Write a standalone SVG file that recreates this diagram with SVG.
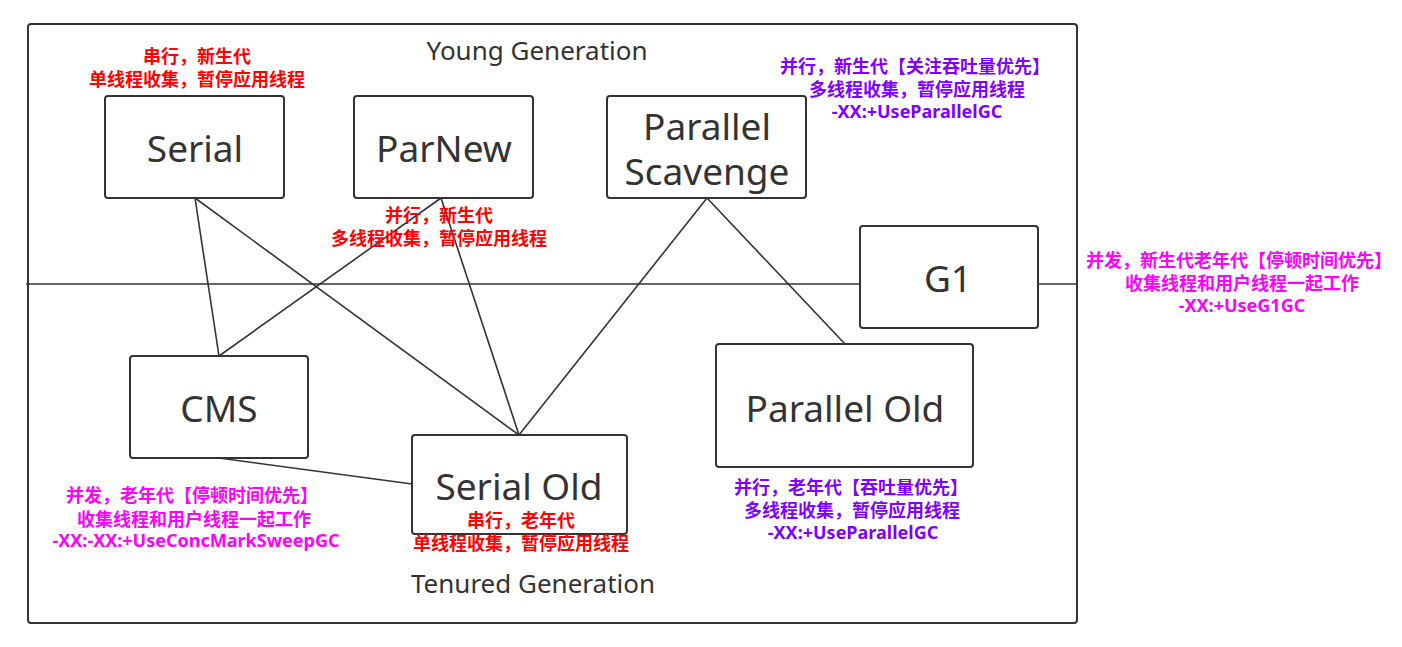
<svg xmlns="http://www.w3.org/2000/svg" width="1402" height="647" viewBox="0 0 1402 647">
<style>
.frame{fill:none;stroke:#333;stroke-width:2}
.box{fill:#fff;stroke:#333;stroke-width:2}
.ln{stroke:#333;stroke-width:1.6;fill:none}
.nt{font-family:"Noto Sans","Open Sans",sans-serif;font-size:37px;fill:#333;text-anchor:middle}
.gt{font-family:"Noto Sans","Open Sans",sans-serif;font-size:26px;fill:#333;text-anchor:middle}
.lb{font-family:"Noto Sans","Noto Sans CJK SC",sans-serif;font-size:18px;font-weight:bold;text-anchor:middle}
.red{fill:#ff0000}
.pur{fill:#8000ff}
.mag{fill:#ff00ff}
</style>
<rect x="28" y="24" width="1049" height="599" rx="3" class="frame"/>
<line x1="26" y1="284" x2="1077" y2="284" class="ln"/>
<text x="537" y="60" class="gt">Young Generation</text>
<text x="533" y="593" class="gt">Tenured Generation</text>
<g id="connectors">
<line x1="195" y1="198" x2="219" y2="356" class="ln"/>
<line x1="195" y1="198" x2="519" y2="435" class="ln"/>
<line x1="441" y1="198" x2="219" y2="356" class="ln"/>
<line x1="441" y1="198" x2="519" y2="435" class="ln"/>
<line x1="707" y1="198" x2="519" y2="435" class="ln"/>
<line x1="707" y1="198" x2="845" y2="344" class="ln"/>
<line x1="219" y1="458" x2="412" y2="484" class="ln"/>
</g>
<g id="serial">
<rect x="105" y="96" width="179" height="102" rx="3" class="box"/>
<text x="195" y="162" class="nt">Serial</text>
<text class="lb red" x="197"><tspan x="197" y="63">串行，新生代</tspan><tspan x="197" y="86">单线程收集，暂停应用线程</tspan></text>
</g>
<g id="parnew">
<rect x="354" y="96" width="179" height="102" rx="3" class="box"/>
<text x="444" y="162" class="nt">ParNew</text>
</g>
<g id="parallel-scavenge">
<rect x="607" y="96" width="199" height="102" rx="3" class="box"/>
<text class="nt"><tspan x="707" y="140">Parallel</tspan><tspan x="707" y="185">Scavenge</tspan></text>
<text class="lb pur"><tspan x="915" y="73">并行，新生代【关注吞吐量优先】</tspan><tspan x="917" y="96">多线程收集，暂停应用线程</tspan><tspan x="917" y="118">-XX:+UseParallelGC</tspan></text>
</g>
<g id="g1">
<rect x="860" y="226" width="178" height="102" rx="3" class="box"/>
<text x="948" y="292" class="nt">G1</text>
<text class="lb mag"><tspan x="1239" y="267">并发，新生代老年代【停顿时间优先】</tspan><tspan x="1242" y="290">收集线程和用户线程一起工作</tspan><tspan x="1242" y="312">-XX:+UseG1GC</tspan></text>
</g>
<g id="cms">
<rect x="130" y="356" width="178" height="102" rx="3" class="box"/>
<text x="219" y="422" class="nt">CMS</text>
<text class="lb mag"><tspan x="192" y="502">并发，老年代【停顿时间优先】</tspan><tspan x="194" y="526">收集线程和用户线程一起工作</tspan><tspan x="196" y="547">-XX:-XX:+UseConcMarkSweepGC</tspan></text>
</g>
<g id="serial-old">
<rect x="412" y="435" width="215" height="99" rx="3" class="box"/>
<text x="519" y="500" class="nt">Serial Old</text>
</g>
<g id="parallel-old">
<rect x="716" y="344" width="257" height="123" rx="3" class="box"/>
<text x="845" y="422" class="nt">Parallel Old</text>
<text class="lb pur"><tspan x="851" y="494">并行，老年代【吞吐量优先】</tspan><tspan x="852" y="517">多线程收集，暂停应用线程</tspan><tspan x="853" y="539">-XX:+UseParallelGC</tspan></text>
</g>
<text class="lb red"><tspan x="439" y="222">并行，新生代</tspan><tspan x="439" y="245">多线程收集，暂停应用线程</tspan></text>
<text class="lb red"><tspan x="521" y="527">串行，老年代</tspan><tspan x="521" y="550">单线程收集，暂停应用线程</tspan></text>
</svg>
